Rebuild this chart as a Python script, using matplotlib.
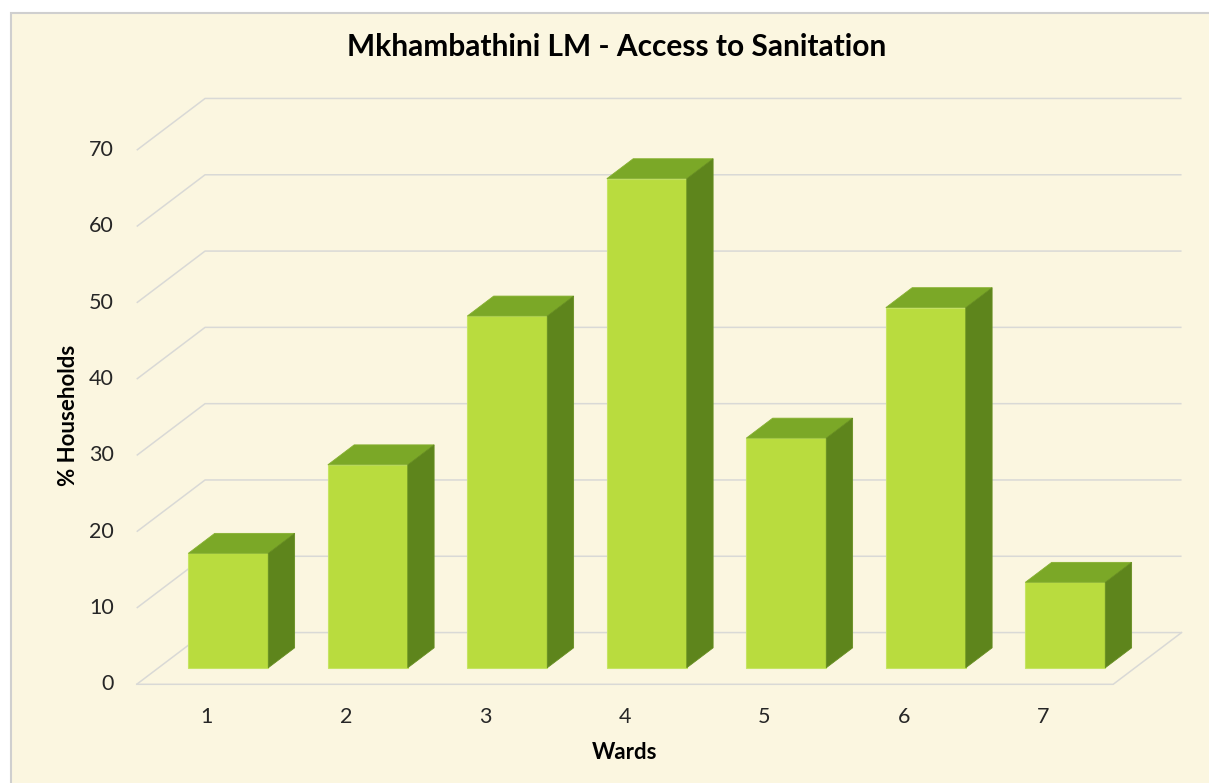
import matplotlib.pyplot as plt
from matplotlib.patches import Polygon, Rectangle

# Andel hushåll med tillgång till sanitet per ward
wards = ['1', '2', '3', '4', '5', '6', '7']
households_pct = [15.0, 26.6, 46.1, 64.1, 30.1, 47.2, 11.2]
y_ticks = [0, 10, 20, 30, 40, 50, 60, 70]

title = 'Mkhambathini LM - Access to Sanitation'
x_label = 'Wards'
y_label = '% Households'

# färger (Excel-liknande 3D-staplar)
bg_color = '#FBF6E0'
grid_color = '#D9D9D6'
front_color = '#B9DC3E'
top_color = '#7BA827'
side_color = '#5E851C'
text_color = '#262626'

plt.rcParams['font.family'] = ['Lato', 'DejaVu Sans']

W, H = 1209, 783
fig = plt.figure(figsize=(W / 100, H / 100), dpi=100)
fig.patch.set_facecolor('white')

# bakgrundsruta med grå kant
fig.patches.append(Rectangle((11 / W, -0.01), 1.0, (H - 13) / H + 0.01,
                             transform=fig.transFigure, facecolor=bg_color,
                             edgecolor='#CFCFCF', linewidth=1.5, zorder=-1))

# ett axes över hela figuren, skalan: 1 enhet i x = en kategori, 1 enhet i y = 1 %
x0_px, slot_px = 136.7, 139.5
y0_px, unit_px = 684.3, 7.63
ax = fig.add_axes([0, 0, 1, 1])
ax.set_xlim(-x0_px / slot_px, (W - x0_px) / slot_px)
ax.set_ylim(-(H - y0_px) / unit_px, y0_px / unit_px)
ax.axis('off')
ax.patch.set_alpha(0)

n = len(wards)
depth_x, depth_y = 0.49, 6.78      # djupriktning för golv/bakvägg
bar_front, bar_back = 0.32, 0.705  # stapelns djup (andel av golvet)
bar_w = 0.573

# rutnät: sidovägg + bakvägg
for v in y_ticks:
    ax.plot([0, depth_x, n + depth_x], [v, v + depth_y, v + depth_y],
            color=grid_color, linewidth=1.1, zorder=1, solid_capstyle='butt')
# golvets framkant och högerkant
ax.plot([0, n, n + depth_x], [0, 0, depth_y], color=grid_color,
        linewidth=1.1, zorder=1)

# staplar
for i, val in enumerate(households_pct):
    fx = i + (1 - bar_w) / 2 + bar_front * depth_x
    fy = bar_front * depth_y
    ddx = (bar_back - bar_front) * depth_x
    ddy = (bar_back - bar_front) * depth_y
    front = [(fx, fy), (fx + bar_w, fy), (fx + bar_w, fy + val), (fx, fy + val)]
    top = [(fx, fy + val), (fx + bar_w, fy + val),
           (fx + bar_w + ddx, fy + val + ddy), (fx + ddx, fy + val + ddy)]
    side = [(fx + bar_w, fy), (fx + bar_w + ddx, fy + ddy),
            (fx + bar_w + ddx, fy + val + ddy), (fx + bar_w, fy + val)]
    ax.add_patch(Polygon(front, closed=True, facecolor=front_color,
                         edgecolor='#C6E463', linewidth=0.8, zorder=3))
    ax.add_patch(Polygon(top, closed=True, facecolor=top_color,
                         edgecolor='#86B030', linewidth=0.6, zorder=3))
    ax.add_patch(Polygon(side, closed=True, facecolor=side_color,
                         edgecolor='#668E20', linewidth=0.6, zorder=3))

# axeltexter
for v in y_ticks:
    ax.text(-0.163, v, str(v), ha='right', va='center', fontsize=15.5,
            color=text_color)
for i, w in enumerate(wards):
    ax.text(i + 0.5, -4.3, w, ha='center', va='center', fontsize=15.5,
            color=text_color)

ax.text(3.5, -8.9, x_label, ha='center', va='center', fontsize=16,
        fontweight='bold', color='black')
ax.text(-0.49, 35.2, y_label, ha='center', va='center', rotation=90,
        fontsize=16, fontweight='bold', color='black')
fig.text(617 / W, 1 - 47 / H, title, ha='center', va='center', fontsize=21.5,
         fontweight='bold', color='black')

fig.savefig('out.png', dpi=100, facecolor=fig.get_facecolor())
